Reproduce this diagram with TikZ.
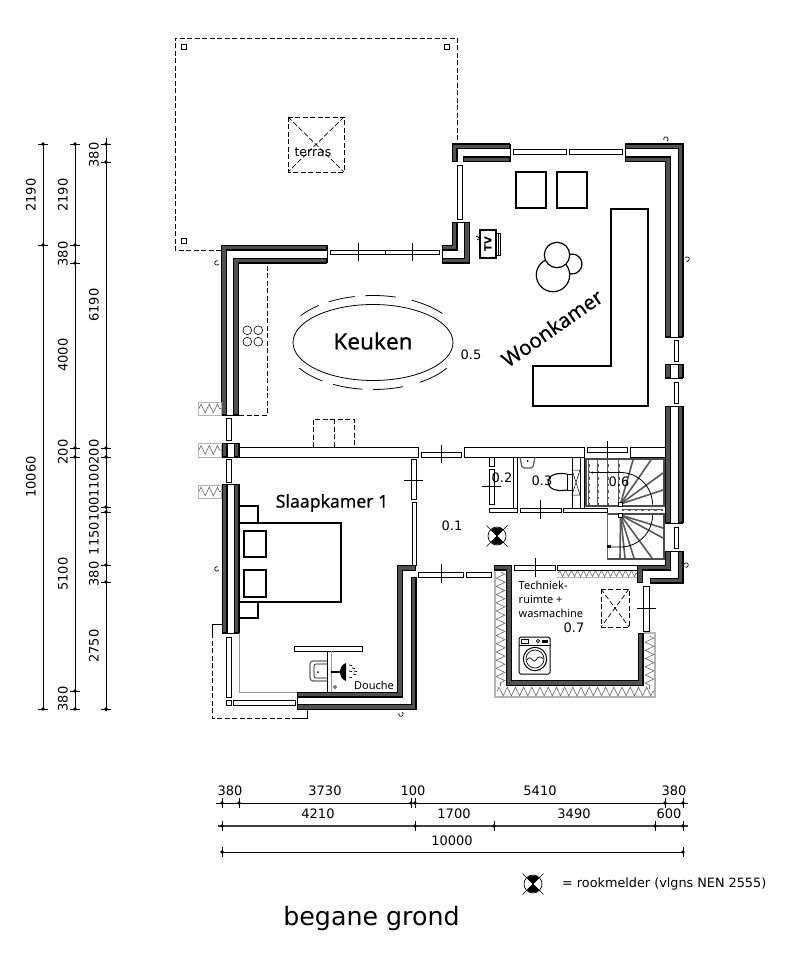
\documentclass[tikz,border=0pt]{standalone}
\usepackage{fontspec}
\usepackage{xcolor}
\usetikzlibrary{arrows.meta, decorations.pathmorphing}
\setmainfont{DejaVu Sans}
\newfontfamily\roomfont{Noto Sans}
\newfontfamily\roomboldfont[FakeBold=0.5]{Noto Sans}
\newfontfamily\roommedfont[FakeBold=0.2]{Noto Sans}
\newcommand{\fsz}[1]{\fontsize{#1}{#1}\selectfont}
\newcommand{\chairarc}[2]{\draw[thin line] plot[domain=#1:#2, samples=14, smooth]
  ({373+88*cos(\x)},{342.5-47*sin(\x)});}
\definecolor{wallgray}{HTML}{505050}
\definecolor{insulgray}{HTML}{B4B4B4}

\begin{document}
\begin{tikzpicture}[x=1pt, y=-1pt,
      band/.style={draw=black, line width=1.2pt, double=wallgray, double distance=3.6pt,
                   line cap=rect, miter limit=10},
      slab/.style={draw=black, fill=white, line width=0.9pt},
      mark line/.style={draw=black, line width=0.5pt},
      thin line/.style={draw=black, line width=0.8pt},
      furn/.style={draw=black, fill=white, line width=1.5pt},
      dashline/.style={draw=black, line width=0.7pt, dash pattern=on 5pt off 2.5pt},
      insul/.style={draw=insulgray, line width=1pt},
      zig/.style={draw=black!60, line width=0.6pt, decorate,
                  decoration={zigzag, segment length=8.2pt, amplitude=4.4pt}},
      zigsmall/.style={zig, decoration={zigzag, segment length=6pt, amplitude=3pt}},
      tread/.style={draw=black!65, line width=1.6pt},
      treadb/.style={draw=white, line width=0.6pt, dash pattern=on 4pt off 2.5pt},
      dimline/.style={draw=black, line width=0.9pt},
      dimlab/.style={font=\fsz{13}, inner sep=0pt},
      pics/smokedet/.style={code={
        \fill[black] (0,0) -- (45:8.5pt) arc[start angle=45, end angle=135, radius=8.5pt] -- cycle;
        \fill[black] (0,0) -- (225:8.5pt) arc[start angle=225, end angle=315, radius=8.5pt] -- cycle;
        \draw[line width=0.7pt] (0,0) circle[radius=9pt];
        \draw[line width=0.6pt] (-10.5,-10.5) -- (10.5,10.5) (-10.5,10.5) -- (10.5,-10.5);
      }},
    ]
    \useasboundingbox (0,0) rectangle (795,960);

    % terrace
    \draw[dashline] (221,250) -- (175,250) -- (175,38) -- (457,38) -- (457,144);
    \foreach \xa/\ya in {184/47, 447/47, 184/241}
      \draw[line width=1.3pt] (\xa-2.2,\ya-2.2) rectangle (\xa+2.2,\ya+2.2);
    \draw[dashline] (288,117) rectangle (344,172);
    \draw[dashline] (288,117) -- (344,172) (344,117) -- (288,172);
    \node[font=\fsz{12.5}, inner sep=0pt] (terras) at (313,152.5) {terras};

    % outer walls
    \draw[band] (507,146.5) -- (454.5,146.5) -- (454.5,159.5);
    \draw[band] (466,159.5) -- (507,159.5);
    \draw[thin line] (510,144) -- (510,162);
    \draw[band] (628,146.5) -- (680.5,146.5) -- (680.5,334);
    \draw[band] (628,159.5) -- (668,159.5) -- (668,334);
    \draw[thin line] (625,144) -- (625,162) (665,337) -- (683,337);
    \draw[band] (668,367) -- (668,375);
    \draw[band] (680.5,367) -- (680.5,375);
    \draw[thin line] (665,364) -- (683,364) (665,378) -- (683,378);
    \draw[band] (668,409) -- (668,520);
    \draw[band] (680.5,409) -- (680.5,520);
    \draw[thin line] (665,406) -- (683,406) (665,523) -- (683,523);
    \draw[band] (668,554) -- (668,567.5) -- (640,567.5) -- (640,580);
    \draw[band] (653,580.5) -- (680.5,580.5) -- (680.5,554);
    \draw[thin line] (665,551) -- (683,551);
    \draw[band] (324,247.5) -- (224,247.5) -- (224,412);
    \draw[band] (324,260.5) -- (236,260.5) -- (236,412);
    \draw[thin line] (327,245) -- (327,263) (221,415) -- (239,415);
    \draw[band] (454.5,225) -- (454.5,247.5) -- (445,247.5);
    \draw[band] (467,225) -- (467,260.5) -- (445,260.5);
    \draw[thin line] (452,222) -- (470,222) (442,245) -- (442,263);
    \draw[band] (224.5,446) -- (224.5,454);
    \draw[band] (236.5,446) -- (236.5,454);
    \draw[thin line] (222,443) -- (239,443) (222,457) -- (239,457);
    \draw[band] (224.5,487) -- (224.5,630);
    \draw[band] (236.5,487) -- (236.5,630);
    \draw[thin line] (222,484) -- (239,484) (222,633) -- (239,633);
    \draw[band] (413,568) -- (400,568) -- (400,694.5) -- (300,694.5);
    \draw[band] (413.5,580) -- (413.5,707) -- (300,707);
    \draw[thin line] (297,692) -- (297,709);

    % insulation of the utility room
    \draw[insul, line width=2pt] (495,570) -- (495,697) -- (655,697) -- (655,633) -- (644,633);
    \draw[zig] (500.5,572) -- (500.5,686);
    \draw[zig] (497,691.5) -- (654,691.5);
    \draw[zig] (649.5,636) -- (649.5,689);
    \draw[zigsmall] (558,573.5) -- (637,573.5);
    \draw[insul] (557,577) -- (637,577);
    \draw[band] (497,567.5) -- (509,567.5) -- (509,683) -- (640.5,683) -- (640.5,636);

    % insulated patches on the left facade
    \foreach \ya/\yb in {402/415, 443/457, 485/498} {
      \draw[insul] (198,\ya) rectangle (221,\yb);
      \draw[zig] (199,{(\ya+\yb)/2}) -- (221,{(\ya+\yb)/2});
    }

    % windows and slabs
    \foreach \xa/\ya/\xb/\yb in {513/149/566/154, 569/149/622/154, 457/165/462/219,
        674/340/678.5/361, 674/382/678.5/403, 330/250/385/254.5, 385/250/439/254.5,
        226/418/231/440, 226/459/231/482, 226/637/231/697, 226/700/231/705, 233/700/295/705,
        239/447/418/457, 421/452/461/457, 464/447/584/457, 587/447/627/452, 630/447/665/457,
        411/459/416/499, 412/502/416/565, 418/572/463/577, 466/572/491/577,
        489/457/494/466, 489/469/494/504, 513/457/517/512, 489/508/517/512, 520/508/561/512,
        563/508/607/512, 580/457/584/508, 674/527/678.5/548, 514/565/555/570,
        557/565/637/570, 643/586/649/631, 294/646/362/651}
      \draw[slab] (\xa,\ya) rectangle (\xb,\yb);
    \foreach \xa/\ya/\xb/\yb in {358/243/358/261, 412/243/412/261, 441/445/441/463,
        607/441/607/459, 404/480/423/480, 482/486/501/486, 540/500/540/519, 441/564/441/583,
        535/558/535/577, 637/608/656/608}
      \draw[mark line] (\xa,\ya) -- (\xb,\yb);

    % wall lights
    \foreach \xa/\ya/\ang in {218/261/60, 218/567/60, 399/713/150, 667/141/-60, 686/261/-120, 685/567/-120}
      \draw[line width=0.7pt] (\xa,\ya) arc[start angle=\ang, delta angle=270, radius=2.2pt];

    % kitchen
    \draw[dashline] (239,415) -- (267,415) -- (267,263);
    \foreach \xa/\ya in {247.3/330.3, 258.3/330.3, 247.3/341.7, 258.3/341.7}
      \draw[line width=0.6pt] (\xa,\ya) circle[radius=4.4pt];
    \draw[dashline] (313,447) -- (313,419) -- (354,419) -- (354,447) (334,419) -- (334,447);
    \draw[thin line] (373,342.5) ellipse[x radius=80pt, y radius=38pt];
    \chairarc{128}{145}\chairarc{102}{120}\chairarc{75}{95}\chairarc{38}{64}
    \chairarc{213}{235}\chairarc{243}{263}\chairarc{270}{290}\chairarc{302}{327}
    \node[font=\roomboldfont\fsz{22.5}, inner sep=0pt] (keuken) at (373,341) {Keuken};

    % living room
    \draw[furn] (516,172) rectangle (546,208);
    \draw[furn] (557,172) rectangle (587,208);
    \draw[furn] (611,209) -- (648,209) -- (648,406) -- (533,406) -- (533,366) -- (611,366) -- cycle;
    \draw[furn, line width=1.2pt] (572,264) circle[radius=10pt];
    \draw[furn, line width=1.2pt] (553,275) circle[radius=16.7pt];
    \draw[furn, line width=1.2pt] (557,255) circle[radius=12.7pt];
    \draw[furn, line width=1.2pt] (480,230) rectangle (496,258);
    \draw[thin line] (496,233) -- (500,233) -- (500,255) -- (496,255) (498,233) -- (498,255);
    \draw[line width=0.7pt] (476,236) -- (480,238) (477,240) -- (480,238);
    \node[font=\bfseries\fsz{10}, inner sep=0pt, rotate=90] (tv) at (488,244) {TV};
    \node[font=\roommedfont\fsz{20.5}, inner sep=0pt, rotate=35] (woonkamer) at (552,328) {Woonkamer};

    % bedroom
    \draw[furn] (239,506) rectangle (258,523);
    \draw[furn] (239,602) rectangle (258,618);
    \draw[furn] (239,523) rectangle (341,602);
    \draw[furn] (244,531) rectangle (266,557);
    \draw[furn] (244,570) rectangle (266,597);
    \node[font=\roommedfont\fsz{17.6}, inner sep=0pt] (slaapkamer) at (332,503) {Slaapkamer 1};

    % bathroom of the bedroom
    \draw[thin line] (327,651) -- (327,692);
    \draw[draw=black!40, line width=0.8pt] (331,651) -- (331,692);
    \draw[draw=black!60, line width=1.2pt, rounded corners=3pt] (327,661) -- (310,661) -- (310,681) -- (327,681);
    \draw[line width=0.6pt, rounded corners=2pt] (327,664) -- (314,664) -- (314,678) -- (327,678);
    \fill (318,672) circle[radius=1pt];
    \draw[line width=1.2pt] (331,672) -- (340,672);
    \fill (340,672) .. controls (340,667) and (343,664) .. (346,663) -- (346,681) .. controls (343,680) and (340,677) .. cycle;
    \foreach \xa/\ya in {349/665, 352/668, 349/671, 353/674, 349/677, 354/671}
      \draw[line width=0.7pt] (\xa,\ya) -- ++(3,0.6);
    \draw[line width=0.6pt] (335,687) circle[radius=1.5pt];
    \node[font=\roomfont\fsz{11}, inner sep=0pt] (douche) at (374,685) {Douche};
    \draw[draw=black!40, line width=0.8pt] (239,633) -- (239,692) -- (297,692);
    \draw[thin line] (222,624) -- (212,624) -- (212,633);
    \draw[dashline] (212,633) -- (212,718) -- (297,718);
    \draw[thin line] (297,718) -- (307,718) -- (307,709);

    % toilet and washroom
    \draw[line width=1.2pt, draw=black!65, rounded corners=2pt] (520,457) -- (522,468) -- (533,468) -- (535,457);
    \fill (527.5,461) circle[radius=1pt];
    \draw[line width=1.1pt] (567,474) .. controls (555,472) and (548,476) .. (548,482) .. controls (548,488) and (555,492) .. (567,490);
    \draw[thin line] (567,474) rectangle (572,490);
    \draw[thin line] (572,457) rectangle (580,508);
    \draw[line width=0.5pt] (572,470) -- (580,470) -- (572,495) -- (580,495) -- cycle;

    % stairs
    \draw[draw=black!70, line width=1.1pt] (586,459) rectangle (664,506);
    \draw[draw=black!70, line width=1.1pt] (607,559) -- (664,559) -- (664,514) -- (607,514);
    \draw[draw=black!60, line width=0.7pt] (607,514) -- (607,559);
    \foreach \xa in {589,598,608,619} {
      \draw[tread] (\xa,460) -- (\xa,505);
      \draw[treadb] (\xa,460) -- (\xa,505);
    }
    \draw[tread, line width=2.4pt] (622,510) -- (663,510);
    \draw[treadb, line width=0.8pt] (624,510) -- (663,510);
    \foreach \xa/\ya in {633/460, 651/460, 663/473, 663/490} {
      \draw[tread] (620.5,504) -- (\xa,\ya);
    }
    \foreach \xa/\ya in {663/528, 663/538, 652/558, 634/558, 625/558, 620/558} {
      \draw[tread] (620.5,515) -- (\xa,\ya);
    }
    \draw[thin line] (592,472.5) -- (620.5,472.5) arc[start angle=90, end angle=0, radius=32pt];
    \draw[thin line] (652.5,515) arc[start angle=0, end angle=-90, radius=32pt] -- (607,547);
    \draw[-{Stealth[length=3pt]}, line width=0.6pt] (594,472.5) -- (590,472.5);
    \fill (607,545) rectangle (611,548);
    \draw[fill=white, line width=0.9pt] (618.5,502) rectangle (622,506);
    \draw[fill=white, line width=0.9pt] (618.5,513) rectangle (622,517);

    % utility room
    \node[font=\roomfont\fsz{11}, inner sep=0pt, anchor=north west, align=left] (techniek) at (518.5,580.5)
      {Techniek-\\[3pt]ruimte +\\[3pt]wasmachine};
    \draw[dashline] (601,589) rectangle (629,627);
    \draw[dashline] (601,589) -- (629,627) (629,589) -- (601,627);
    \draw[line width=1pt, rounded corners=1.5pt] (519,637) rectangle (550,674);
    \draw[line width=0.7pt] (519,645.5) -- (550,645.5);
    \draw[line width=0.7pt] (521,639.5) rectangle (528,643);
    \draw[line width=0.7pt] (538,641) circle[radius=1.7pt];
    \fill[black] (541.5,640) rectangle (548,642.5);
    \draw[line width=1pt] (535,659) circle[radius=11.7pt];
    \draw[line width=0.7pt] (535,659) circle[radius=9pt];
    \draw[line width=0.7pt] (527,660) .. controls (531,653) and (533,665) .. (536,660) .. controls (538,656) and (541,656) .. (543,659);

    % room numbers and smoke detector
    \foreach \xa/\ya/\txt in {502/478/0.2, 542/481/0.3, 619/482/0.6, 452/526/0.1, 471/355/0.5, 574/628/0.7}
      \node[dimlab] (num\txt) at (\xa,\ya) {\txt};
    \pic (smokehall) at (497,536) {smokedet};
    \pic (smokelegend) at (533,884) {smokedet};
    \node[font=\fsz{12.8}, inner sep=0pt, anchor=west] (legend) at (562,884) {= rookmelder (vlgns NEN 2555)};
    \node[font=\fsz{25.3}, inner sep=0pt] (title) at (371.5,919) {begane grond};

    % vertical dimensions
    \draw[dimline] (43,144) -- (43,709);
    \draw[dimline] (75,144) -- (75,709);
    \draw[dimline] (106,138) -- (106,711);
    \foreach \xa/\ya in {43/144, 43/245, 43/709, 75/144, 75/245, 75/263, 75/448, 75/457, 75/691, 75/709,
        106/144, 106/162, 106/448, 106/457, 106/507, 106/512, 106/565, 106/582, 106/709} {
      \draw[line width=0.8pt] (\xa-5,\ya) -- (\xa+5,\ya);
      \fill (\xa-1.8,\ya) -- (\xa,\ya-1.8) -- (\xa+1.8,\ya) -- (\xa,\ya+1.8) -- cycle;
    }
    \foreach \xa/\ya/\txt in {31/195/2190, 31/477/10060, 63/195/2190, 63/254/380, 63/355/4000, 63/452/200,
        63/574/5100, 63/699/380, 94/155/380, 94/305/6190, 94/452/200, 94/481/1100, 94/509.5/100,
        94/538.5/1150, 94/574/380, 94/646/2750}
      \node[dimlab, rotate=90] (lab\xa\ya) at (\xa,\ya) {\txt};
    % horizontal dimensions
    \draw[dimline] (216,803) -- (688,803);
    \draw[dimline, line width=1.3pt, draw=black!75] (218,826) -- (688,826);
    \draw[dimline] (222,852) -- (683,852);
    \foreach \xa/\ya in {222/803, 239/803, 411/803, 415/803, 665/803, 683/803,
        222/826, 415/826, 494/826, 655/826, 683/826, 222/852, 683/852} {
      \draw[line width=0.8pt] (\xa,\ya-5) -- (\xa,\ya+5);
      \fill (\xa-1.8,\ya) -- (\xa,\ya-1.8) -- (\xa+1.8,\ya) -- (\xa,\ya+1.8) -- cycle;
    }
    \foreach \xa/\ya/\txt in {230/791/380, 325/791/3730, 413/791/100, 540/791/5410, 674/791/380,
        318/814/4210, 454/814/1700, 574/814/3490, 669/814/600, 452/841/10000}
      \node[dimlab] (lab\xa\ya) at (\xa,\ya) {\txt};
  \end{tikzpicture}
\end{document}
